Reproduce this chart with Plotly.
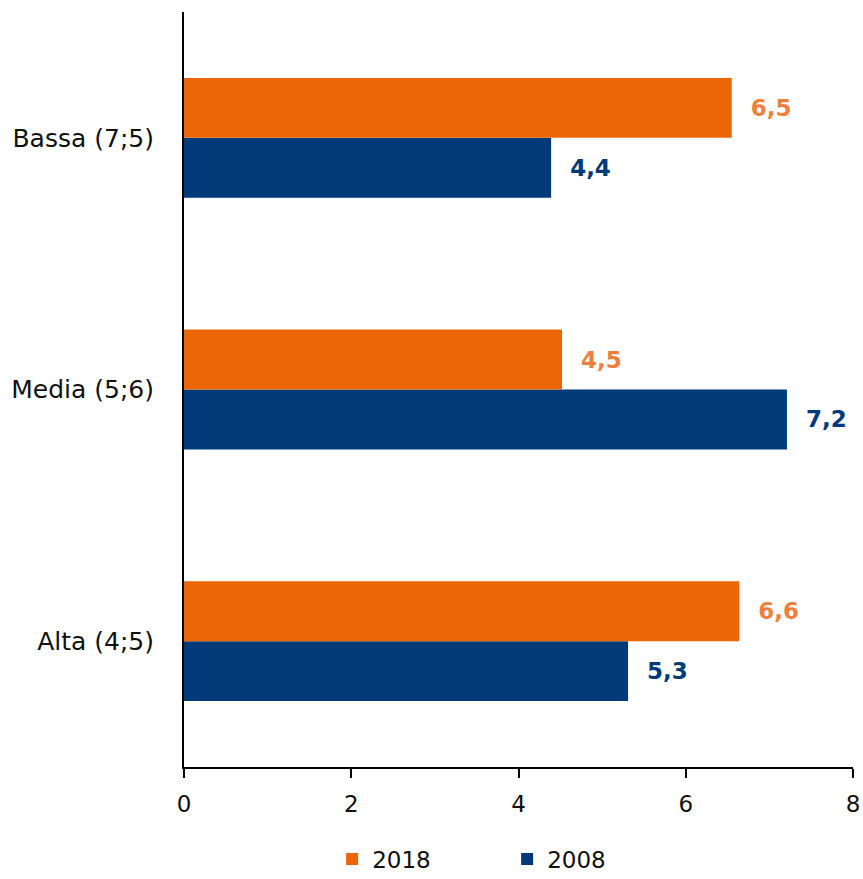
import plotly.graph_objects as go

categories = ['Alta (4;5)', 'Media (5;6)', 'Bassa (7;5)']
values_2018 = [6.64, 4.52, 6.55]
values_2008 = [5.31, 7.21, 4.39]
labels_2018 = ['6,6', '4,5', '6,5']
labels_2008 = ['5,3', '7,2', '4,4']
x_ticks = [0, 2, 4, 6, 8]

orange = '#EC6608'
orange_txt = '#F07F3B'
navy = '#003A78'
font_name = 'DejaVu Sans'

fig = go.Figure()
# 2008 first so it sits below 2018 in each group
fig.add_trace(go.Bar(
    y=categories, x=values_2008, name='2008', orientation='h',
    marker=dict(color=navy, line=dict(width=0)),
    text=['  ' + t for t in labels_2008], textposition='outside',
    textfont=dict(color=navy, size=23, family=font_name, weight='bold'),
    cliponaxis=False,
))
fig.add_trace(go.Bar(
    y=categories, x=values_2018, name='2018', orientation='h',
    marker=dict(color=orange, line=dict(width=0)),
    text=['  ' + t for t in labels_2018], textposition='outside',
    textfont=dict(color=orange_txt, size=23, family=font_name, weight='bold'),
    cliponaxis=False,
))

fig.update_layout(
    width=863, height=879,
    margin=dict(l=184, r=10, t=12, b=112, autoexpand=False),
    plot_bgcolor='white', paper_bgcolor='white',
    barmode='group', bargap=0.524, bargroupgap=0,
    font=dict(family=font_name, size=23, color='#111111'),
    legend=dict(orientation='h', traceorder='reversed',
                x=0.483, xanchor='center', y=-0.122, yanchor='middle',
                font=dict(size=23), entrywidth=130, itemwidth=30),
    showlegend=True,
)
fig.update_xaxes(range=[0, 8], tickvals=x_ticks, ticktext=[str(v) for v in x_ticks],
                 showgrid=False, zeroline=False, showline=True, linecolor='black', linewidth=2,
                 ticks='outside', ticklen=9, tickwidth=1.5, tickcolor='black', automargin=False,
                 ticklabelstandoff=6, ticklabeloverflow='allow', tickfont=dict(size=23))
fig.update_yaxes(categoryorder='array', categoryarray=categories, automargin=False,
                 showgrid=False, zeroline=False, showline=True, linecolor='black', linewidth=2,
                 ticks='', ticklabelstandoff=23, tickfont=dict(size=25))

# drop the default 8px body margin so the figure fills the window exactly
fig.write_html('out.html', config={'displayModeBar': False},
               post_script="document.body.style.margin='0';")
